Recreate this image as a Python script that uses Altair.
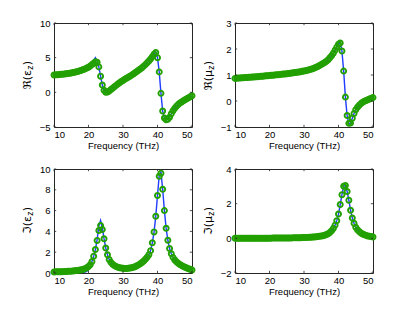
import altair as alt
import pandas as pd

FREQ = [10.0, 10.5, 11.0, 11.5, 12.0, 12.5, 13.0, 13.5, 14.0, 14.5,
        15.0, 15.5, 16.0, 16.5, 17.0, 17.5, 18.0, 18.5, 19.0, 19.5,
        20.0, 20.5, 21.0, 21.5, 22.0, 22.5, 23.0, 23.5, 24.0, 24.5,
        25.0, 25.5, 26.0, 26.5, 27.0, 27.5, 28.0, 28.5, 29.0, 29.5,
        30.0, 30.5, 31.0, 31.5, 32.0, 32.5, 33.0, 33.5, 34.0, 34.5,
        35.0, 35.5, 36.0, 36.5, 37.0, 37.5, 38.0, 38.5, 39.0, 39.5,
        40.0, 40.5, 41.0, 41.5, 42.0, 42.5, 43.0, 43.5, 44.0, 44.5,
        45.0, 45.5, 46.0, 46.5, 47.0, 47.5, 48.0, 48.5, 49.0, 49.5,
        50.0]

# Re(eps_z): retrieved (circles) and theory (line)
RE_EPS = [2.50, 2.52, 2.55, 2.57, 2.60, 2.62, 2.65, 2.68, 2.72, 2.76,
          2.80, 2.85, 2.90, 2.96, 3.02, 3.10, 3.18, 3.28, 3.38, 3.50,
          3.63, 3.80, 4.00, 4.20, 4.42, 4.35, 3.67, 2.33, 1.05, 0.30,
          0.02, 0.05, 0.20, 0.40, 0.60, 0.80, 1.00, 1.20, 1.38, 1.55,
          1.72, 1.88, 2.03, 2.18, 2.33, 2.48, 2.65, 2.82, 3.00, 3.18,
          3.36, 3.56, 3.78, 4.00, 4.25, 4.52, 4.80, 5.15, 5.50, 5.75,
          5.00, 2.95, -0.15, -2.70, -3.70, -3.95, -3.90, -3.60, -3.10, -2.65,
          -2.30, -2.00, -1.75, -1.55, -1.38, -1.22, -1.07, -0.92, -0.77, -0.63,
          -0.50]
RE_EPS_LINE = [2.50, 2.52, 2.55, 2.57, 2.60, 2.62, 2.65, 2.68, 2.72, 2.76,
               2.80, 2.85, 2.90, 2.96, 3.02, 3.10, 3.18, 3.28, 3.38, 3.50,
               3.63, 3.82, 4.10, 4.60, 5.00, 4.50, 3.67, 2.33, 1.05, 0.30,
               0.02, 0.05, 0.20, 0.40, 0.60, 0.80, 1.00, 1.20, 1.38, 1.55,
               1.72, 1.88, 2.03, 2.18, 2.33, 2.48, 2.65, 2.82, 3.00, 3.18,
               3.36, 3.56, 3.78, 4.00, 4.25, 4.52, 4.80, 5.15, 5.55, 5.85,
               5.00, 2.95, -0.15, -2.70, -3.70, -3.95, -3.90, -3.60, -3.10, -2.65,
               -2.30, -2.00, -1.75, -1.55, -1.38, -1.22, -1.07, -0.92, -0.77, -0.63,
               -0.50]

# Re(mu_z)
RE_MU = [0.870, 0.875, 0.880, 0.885, 0.890, 0.895, 0.900, 0.905, 0.910, 0.915,
         0.920, 0.925, 0.930, 0.936, 0.942, 0.948, 0.955, 0.961, 0.967, 0.973,
         0.980, 0.986, 0.992, 0.998, 1.005, 1.012, 1.020, 1.027, 1.035, 1.042,
         1.050, 1.058, 1.066, 1.075, 1.085, 1.095, 1.105, 1.115, 1.127, 1.140,
         1.153, 1.168, 1.183, 1.200, 1.220, 1.243, 1.268, 1.296, 1.328, 1.362,
         1.400, 1.440, 1.482, 1.530, 1.590, 1.660, 1.740, 1.840, 1.950, 2.070,
         2.180, 2.230, 1.920, 1.150, 0.150, -0.560, -0.860, -0.850, -0.660, -0.480,
         -0.340, -0.240, -0.160, -0.100, -0.050, -0.010, 0.020, 0.050, 0.080, 0.105,
         0.130]
RE_MU_LINE = [0.870, 0.875, 0.880, 0.885, 0.890, 0.895, 0.900, 0.905, 0.910, 0.915,
              0.920, 0.925, 0.930, 0.936, 0.942, 0.948, 0.955, 0.961, 0.967, 0.973,
              0.980, 0.986, 0.992, 0.998, 1.005, 1.012, 1.020, 1.027, 1.035, 1.042,
              1.050, 1.058, 1.066, 1.075, 1.085, 1.095, 1.105, 1.115, 1.127, 1.140,
              1.153, 1.168, 1.183, 1.200, 1.220, 1.243, 1.268, 1.296, 1.328, 1.362,
              1.400, 1.440, 1.482, 1.530, 1.590, 1.660, 1.740, 1.840, 1.950, 2.070,
              2.190, 2.250, 1.920, 1.150, 0.150, -0.560, -0.880, -0.850, -0.660, -0.480,
              -0.340, -0.240, -0.160, -0.100, -0.050, -0.010, 0.020, 0.050, 0.080, 0.105,
              0.130]

# Im(eps_z)
IM_EPS = [0.10, 0.11, 0.11, 0.12, 0.12, 0.13, 0.14, 0.15, 0.16, 0.17,
          0.18, 0.19, 0.21, 0.23, 0.25, 0.28, 0.31, 0.36, 0.42, 0.50,
          0.62, 0.80, 1.10, 1.62, 2.26, 3.13, 4.08, 4.56, 4.18, 3.29,
          2.40, 1.75, 1.30, 1.02, 0.84, 0.71, 0.62, 0.55, 0.50, 0.47,
          0.45, 0.44, 0.44, 0.45, 0.47, 0.50, 0.55, 0.61, 0.69, 0.78,
          0.89, 1.01, 1.15, 1.32, 1.52, 1.75, 2.15, 2.90, 3.95, 5.45,
          7.45, 9.30, 9.60, 8.05, 6.00, 4.30, 3.15, 2.35, 1.85, 1.50,
          1.25, 1.07, 0.93, 0.82, 0.72, 0.63, 0.55, 0.48, 0.41, 0.35,
          0.29]
IM_EPS_LINE = [0.02, 0.02, 0.02, 0.02, 0.03, 0.03, 0.03, 0.03, 0.04, 0.04,
               0.05, 0.05, 0.06, 0.06, 0.07, 0.08, 0.09, 0.10, 0.10, 0.15,
               0.35, 0.70, 1.10, 1.60, 2.25, 3.20, 4.50, 5.05, 4.35, 3.30,
               2.40, 1.75, 1.30, 1.02, 0.84, 0.71, 0.62, 0.55, 0.50, 0.47,
               0.45, 0.44, 0.44, 0.45, 0.47, 0.50, 0.55, 0.61, 0.69, 0.78,
               0.89, 1.01, 1.15, 1.32, 1.52, 1.75, 2.15, 2.90, 3.95, 5.45,
               7.45, 9.40, 9.70, 8.05, 6.00, 4.30, 3.15, 2.35, 1.85, 1.50,
               1.25, 1.07, 0.93, 0.82, 0.72, 0.63, 0.55, 0.48, 0.41, 0.35,
               0.29]

# Im(mu_z)
IM_MU = [0.000, 0.000, 0.000, 0.000, 0.005, 0.005, 0.005, 0.005, 0.005, 0.005,
         0.005, 0.006, 0.007, 0.008, 0.008, 0.009, 0.010, 0.010, 0.010, 0.010,
         0.010, 0.012, 0.013, 0.014, 0.015, 0.016, 0.017, 0.018, 0.019, 0.020,
         0.020, 0.022, 0.024, 0.026, 0.028, 0.030, 0.032, 0.035, 0.038, 0.041,
         0.045, 0.050, 0.055, 0.060, 0.066, 0.073, 0.080, 0.090, 0.100, 0.115,
         0.130, 0.150, 0.180, 0.220, 0.270, 0.340, 0.440, 0.570, 0.760, 1.020,
         1.400, 1.950, 2.520, 3.000, 3.050, 2.700, 2.200, 1.620, 1.170, 0.870,
         0.640, 0.500, 0.390, 0.310, 0.250, 0.210, 0.170, 0.140, 0.120, 0.100,
         0.080]
IM_MU_LINE = IM_MU

X_TICKS = [10, 20, 30, 40, 50]
RE_EPS_TICKS = [-5, 0, 5, 10]
RE_MU_TICKS = [-1, 0, 1, 2, 3]
IM_EPS_TICKS = [0, 2, 4, 6, 8, 10]
IM_MU_TICKS = [-2, 0, 2, 4]

for arr in (RE_EPS, RE_EPS_LINE, RE_MU, RE_MU_LINE, IM_EPS, IM_EPS_LINE, IM_MU):
    assert len(arr) == len(FREQ), len(arr)

BLUE = "#1f3cff"
GREEN = "#22a000"
FRAME = "#262626"
FONT = "Liberation Sans"
TFONT = "DejaVu Sans"
W, H = 138, 104
TICK = 2.2


def panel(line_vals, mark_vals, ydom, yticks, t_main, t_sub):
    df = pd.DataFrame({"f": FREQ, "theory": line_vals, "sim": mark_vals})
    xs = alt.Scale(domain=[10, 50], nice=False, zero=False)
    ys = alt.Scale(domain=ydom, nice=False, zero=False)
    xax = alt.Axis(values=X_TICKS, title="Frequency (THz)", format="d")
    yax = alt.Axis(values=yticks, title=None, format="d")

    line = alt.Chart(df).mark_line(color=BLUE, strokeWidth=1.4).encode(
        x=alt.X("f:Q", scale=xs, axis=xax),
        y=alt.Y("theory:Q", scale=ys, axis=yax),
    )
    pts = alt.Chart(df).mark_point(
        shape="circle", filled=False, color=GREEN, size=26, strokeWidth=1.9, opacity=1
    ).encode(
        x=alt.X("f:Q", scale=xs, axis=xax),
        y=alt.Y("sim:Q", scale=ys, axis=yax),
    )

    xt = pd.DataFrame({"t": X_TICKS})
    yt = pd.DataFrame({"t": yticks})
    tick_style = dict(color=FRAME, strokeWidth=0.8)
    xb = alt.Chart(xt).mark_rule(**tick_style).encode(
        x=alt.X("t:Q", scale=xs, axis=xax), y=alt.value(H), y2=alt.value(H - TICK))
    xtop = alt.Chart(xt).mark_rule(**tick_style).encode(
        x=alt.X("t:Q", scale=xs, axis=xax), y=alt.value(0), y2=alt.value(TICK))
    yl = alt.Chart(yt).mark_rule(**tick_style).encode(
        y=alt.Y("t:Q", scale=ys, axis=yax), x=alt.value(0), x2=alt.value(TICK))
    yr = alt.Chart(yt).mark_rule(**tick_style).encode(
        y=alt.Y("t:Q", scale=ys, axis=yax), x=alt.value(W), x2=alt.value(W - TICK))

    yz = 47
    tx = -26.5
    t1 = alt.Chart(pd.DataFrame({"s": [t_main]})).mark_text(
        angle=270, align="right", baseline="middle", font=TFONT, fontSize=11, color="black"
    ).encode(text="s:N", x=alt.value(tx), y=alt.value(yz))
    t2 = alt.Chart(pd.DataFrame({"s": [t_sub]})).mark_text(
        angle=270, align="left", baseline="middle", font=TFONT, fontSize=8, color="black"
    ).encode(text="s:N", x=alt.value(tx + 3.5), y=alt.value(yz - 0.3))
    t3 = alt.Chart(pd.DataFrame({"s": [")"]})).mark_text(
        angle=270, align="left", baseline="middle", font=TFONT, fontSize=11, color="black"
    ).encode(text="s:N", x=alt.value(tx), y=alt.value(yz - 4.8))

    return alt.layer(line, pts, xb, xtop, yl, yr, t1, t2, t3).properties(width=W, height=H)


p1 = panel(RE_EPS_LINE, RE_EPS, [-5, 10], RE_EPS_TICKS, "\u211c(\u03b5", "z")
p2 = panel(RE_MU_LINE, RE_MU, [-1, 3], RE_MU_TICKS, "\u211c(\u03bc", "z")
p3 = panel(IM_EPS_LINE, IM_EPS, [0, 10], IM_EPS_TICKS, "\u2111(\u03b5", "z")
p4 = panel(IM_MU_LINE, IM_MU, [-2, 4], IM_MU_TICKS, "\u2111(\u03bc", "z")

chart = alt.concat(
    p1, p2, p3, p4, columns=2, spacing={"row": 42, "column": 43}, bounds="flush"
).properties(
    padding={"left": 13, "top": 9, "right": 5, "bottom": 5},
    background="white",
).configure_view(
    stroke=FRAME, strokeWidth=1
).configure_axis(
    domain=False, ticks=False, tickSize=0, grid=False,
    labelFont=FONT, labelFontSize=9.5, labelColor="black",
    titleFont=FONT, titleFontSize=9.5, titleColor="black", titleFontWeight="normal",
    titlePadding=2,
).configure_axisX(labelPadding=2).configure_axisY(labelPadding=4)

chart.save("out.html", embed_options={"renderer": "svg", "actions": False})
